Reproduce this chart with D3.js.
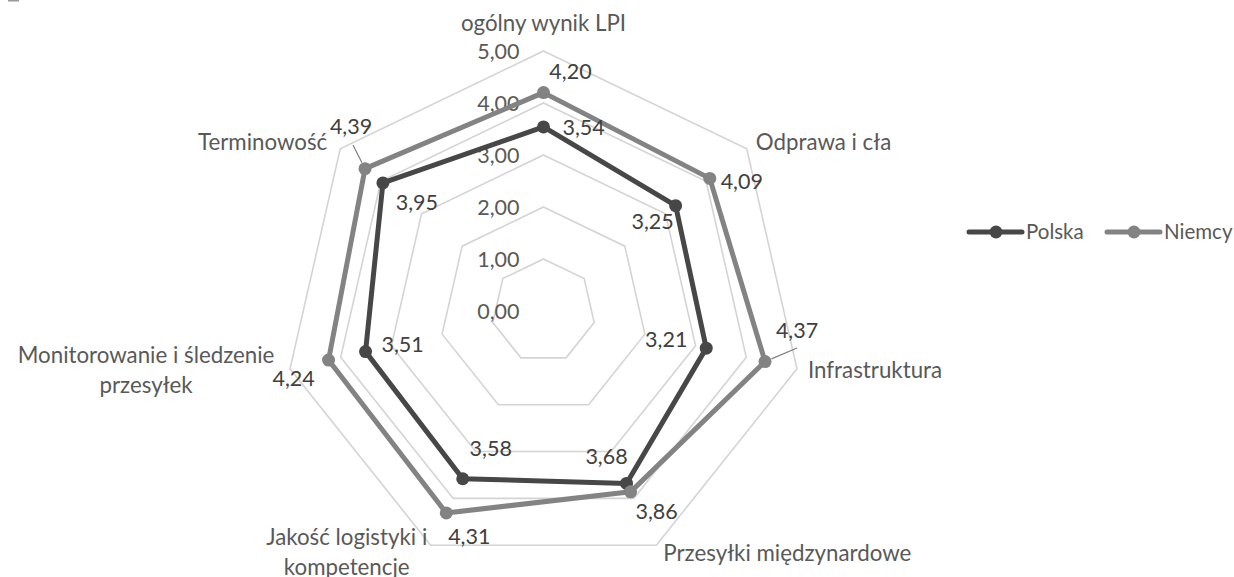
<!DOCTYPE html>
<html>
<head>
<meta charset="utf-8">
<script src="https://cdn.jsdelivr.net/npm/d3@7"></script>
<style>
  body { margin: 0; background: #fff; }
  svg text { font-family: Lato, "Open Sans", sans-serif; fill: #595959; }
</style>
</head>
<body>
<svg id="chart" width="1234" height="577"></svg>
<script>
let width = 1234, height = 577;

// data
let categories = ["ogólny wynik LPI", "Odprawa i cła", "Infrastruktura", "Przesyłki międzynardowe",
                  "Jakość logistyki i\nkompetencje", "Monitorowanie i śledzenie\nprzesyłek", "Terminowość"];
let polska = [3.54, 3.25, 3.21, 3.68, 3.58, 3.51, 3.95];
let niemcy = [4.20, 4.09, 4.37, 3.86, 4.31, 4.24, 4.39];
let ticks = [0, 1, 2, 3, 4, 5];
let seriesNames = ["Polska", "Niemcy"];

// layout (label nudges, like excel's dragged labels)
let cx = 543.5, cy = 311, R = 260;
let catOffsets = [[0, -28, "middle"], [9, -7, "start"], [11, 1, "start"], [7, 8, "start"],
                  [-84, -8, "middle"], [-144, -14, "middle"], [-13, -7, "end"]];
let polskaLabelOff = [[19, 1, "start"], [-23, 16, "middle"], [-40, -9, "middle"], [-20, -27, "middle"],
                      [28, -30, "middle"], [37, -7, "middle"], [34, 20, "middle"]];
let niemcyLabelOff = [[27, -21, "middle"], [32, 3, "middle"], [32, -31, "middle"], [26, 20, "middle"],
                      [23, 24, "middle"], [-35, 18, "middle"], [-14, -42, "middle"]];

let colors = { Polska: "#474747", Niemcy: "#838383" };
let catSize = '22.3px', numSize = '21.5px', legSize = '20.5px';

let svg = d3.select('#chart');
let g = svg.append('g').attr('transform', 'translate(' + cx + ',' + cy + ')');

let r = d3.scaleLinear().domain([0, 5]).range([0, R]);
let angle = d3.scaleLinear().domain([0, categories.length]).range([0, 2 * Math.PI]);

function px(i, v) { return r(v) * Math.sin(angle(i)); }
function py(i, v) { return -r(v) * Math.cos(angle(i)); }

let fmt = (v) => d3.format(".2f")(v).replace(".", ",");

// grid polygons
let radial = d3.lineRadial()
    .angle((d, i) => angle(i))
    .radius((d) => r(d))
    .curve(d3.curveLinearClosed);

g.selectAll('.grid')
    .data(ticks)
    .enter().append('path')
    .attr('class', 'grid')
    .attr('d', (t) => radial(categories.map(() => t)))
    .attr('fill', 'none')
    .attr('stroke', '#d4d4d4')
    .attr('stroke-width', 1.6);

// tick labels
g.selectAll('.tick')
    .data(ticks)
    .enter().append('text')
    .attr('class', 'tick')
    .attr('x', -24)
    .attr('y', (t) => -r(t))
    .attr('dy', '0.35em')
    .attr('text-anchor', 'end')
    .style('font-size', numSize)
    .text((t) => fmt(t));

// category labels
categories.forEach(function(c, i) {
    let o = catOffsets[i];
    let t = g.append('text')
        .attr('text-anchor', o[2])
        .style('font-size', catSize);
    c.split('\n').forEach(function(line, j) {
        t.append('tspan')
            .attr('x', px(i, 5) + o[0])
            .attr('y', py(i, 5) + o[1] + j * 30)
            .attr('dy', '0.35em')
            .text(line);
    });
});

// series
let series = [
    { name: "Polska", values: polska, off: polskaLabelOff },
    { name: "Niemcy", values: niemcy, off: niemcyLabelOff }
];

series.forEach(function(s) {
    g.append('path')
        .attr('d', radial(s.values))
        .attr('fill', 'none')
        .attr('stroke', colors[s.name])
        .attr('stroke-width', 5)
        .attr('stroke-linejoin', 'round');

    g.selectAll('.pt-' + s.name)
        .data(s.values)
        .enter().append('circle')
        .attr('cx', (d, i) => px(i, d))
        .attr('cy', (d, i) => py(i, d))
        .attr('r', 6.5)
        .attr('fill', colors[s.name]);
});

// leader lines for the two labels pulled away from their points
[[2, 4.37, 797, 348], [6, 4.39, 353, 145]].forEach(function(l) {
    let i = l[0], v = l[1];
    let x0 = px(i, v), y0 = py(i, v);
    let x1 = l[2] - cx, y1 = l[3] - cy;
    let k = 7 / Math.hypot(x1 - x0, y1 - y0);
    g.append('line')
        .attr('x1', x0 + (x1 - x0) * k).attr('y1', y0 + (y1 - y0) * k)
        .attr('x2', x1).attr('y2', y1)
        .attr('stroke', '#7f7f7f').attr('stroke-width', 1.2);
});

// value labels
series.forEach(function(s) {
    g.selectAll('.lbl-' + s.name)
        .data(s.values)
        .enter().append('text')
        .attr('x', (d, i) => px(i, d) + s.off[i][0])
        .attr('y', (d, i) => py(i, d) + s.off[i][1])
        .attr('dy', '0.35em')
        .attr('text-anchor', (d, i) => s.off[i][2])
        .style('font-size', numSize)
        .style('fill', '#404040')
        .text((d) => fmt(d));
});

// legend
let legend = svg.append('g').attr('transform', 'translate(969,232)');
let legX = [0, 138];
seriesNames.forEach(function(n, i) {
    let lg = legend.append('g').attr('transform', 'translate(' + legX[i] + ',0)');
    lg.append('line')
        .attr('x1', 0).attr('x2', 53).attr('y1', 0).attr('y2', 0)
        .attr('stroke', colors[n]).attr('stroke-width', 5).attr('stroke-linecap', 'round');
    lg.append('circle').attr('cx', 27).attr('cy', 0).attr('r', 6.5).attr('fill', colors[n]);
    lg.append('text')
        .attr('x', 57).attr('y', 0).attr('dy', '0.35em')
        .style('font-size', legSize)
        .text(n);
});

// small stray mark in the top-left corner of the original
svg.append('rect').attr('x', 8).attr('y', 0).attr('width', 11).attr('height', 1.5).attr('fill', '#9a9a9a');
</script>
</body>
</html>
